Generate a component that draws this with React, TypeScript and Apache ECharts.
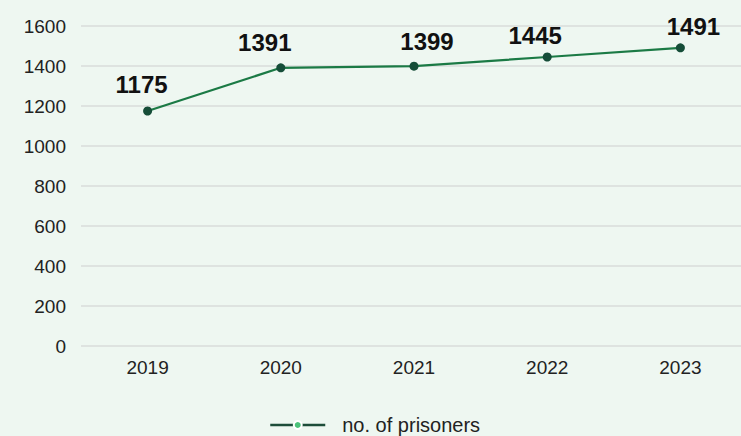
import React, { useEffect, useRef } from "react";
import * as echarts from "echarts";

const years = ["2019", "2020", "2021", "2022", "2023"];
const prisoners = [1175, 1391, 1399, 1445, 1491];
const seriesName = "no. of prisoners";
// label placement nudges (px) as seen in the reference
const labelOffsets: [number, number][] = [[-6, -27], [-16, -25], [13, -25], [-12, -22], [13, -21]];

const FONT = "'Liberation Sans', Arial, sans-serif";

export default function App() {
  const ref = useRef<HTMLDivElement>(null);
  useEffect(() => {
    const chart = echarts.init(ref.current!, null, { renderer: "svg" });
    chart.setOption({
      animation: false,
      backgroundColor: "#eef7f1",
      textStyle: { fontFamily: FONT },
      grid: { left: 81, width: 666, top: 26, height: 320, outerBoundsMode: "none", containLabel: false },
      legend: {
        top: 410,
        left: 264,
        itemWidth: 55,
        itemHeight: 10,
        textStyle: { fontSize: 20, color: "#222", fontFamily: FONT, padding: [0, 0, 0, 12] },
        data: [
          {
            name: seriesName,
            itemStyle: { color: "#4cc27a", borderColor: "#ffffff", borderWidth: 2 },
            lineStyle: { color: "#1d4d3a", width: 2.5 },
          },
        ],
      },
      xAxis: {
        type: "category",
        data: years,
        boundaryGap: true,
        axisLine: { show: false },
        axisTick: { show: false },
        axisLabel: { fontSize: 19, color: "#222", margin: 12 },
      },
      yAxis: {
        type: "value",
        min: 0,
        max: 1600,
        interval: 200,
        axisLabel: { fontSize: 19, color: "#222", margin: 15, formatter: (v: number) => String(v) },
        splitLine: { lineStyle: { color: "#d9dcda", width: 1.5 } },
      },
      series: [
        {
          name: seriesName,
          type: "line",
          data: prisoners.map((v, i) => ({ value: v, label: { offset: labelOffsets[i] } })),
          symbol: "circle",
          symbolSize: 9,
          lineStyle: { color: "#1b7a45", width: 2.2 },
          itemStyle: { color: "#154d38" },
          label: {
            show: true,
            position: "inside",
            fontSize: 24,
            fontWeight: "bold",
            color: "#111",
            fontFamily: FONT,
          },
        },
      ],
    });
    return () => chart.dispose();
  }, []);
  return <div ref={ref} style={{ width: 741, height: 436, position: "absolute", left: 0, top: 0 }} />;
}
